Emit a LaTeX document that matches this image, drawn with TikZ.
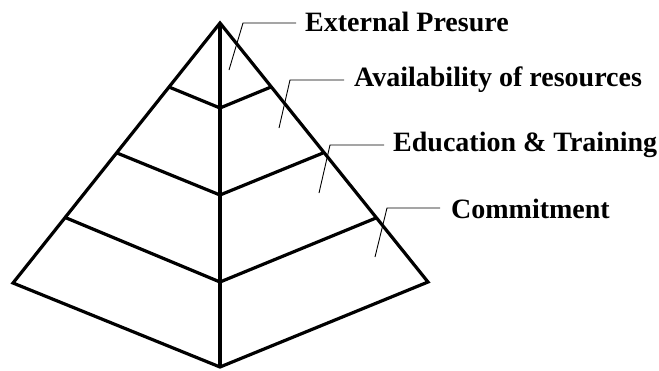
\documentclass[tikz,border=0pt]{standalone}
\usepackage{fontspec}
\setmainfont{Liberation Serif}
\begin{document}
\begin{tikzpicture}[x=1pt,y=-1pt,
  edge/.style={line width=3.2pt,line join=miter},
  leader/.style={line width=0.9pt},
  lbl/.style={anchor=west,inner sep=0pt,font=\fontsize{28}{30}\selectfont\bfseries}]
\useasboundingbox (0,0) rectangle (659,370);
% vertices
\coordinate (apex) at (220,23);
\coordinate (L) at (13,283);
\coordinate (R) at (428,282);
\coordinate (B) at (220,367);
\coordinate (l1) at (169,87);  \coordinate (c1) at (220,108); \coordinate (r1) at (271,87);
\coordinate (l2) at (117,153); \coordinate (c2) at (220,195); \coordinate (r2) at (323,153);
\coordinate (l3) at (64,217);  \coordinate (c3) at (220,282); \coordinate (r3) at (376,218);
% pyramid outline
\draw[edge] (apex) -- (L) -- (B) -- (R) -- cycle;
\draw[edge] (apex) -- (B);
\draw[edge] (l1) -- (c1) -- (r1);
\draw[edge] (l2) -- (c2) -- (r2);
\draw[edge] (l3) -- (c3) -- (r3);
% labels
\node[lbl] (t1) at (305,22) {External Presure};
\node[lbl] (t2) at (354,80) {Availability of resources};
\node[lbl] (t3) at (393,145) {Education \& Training};
\node[lbl] (t4) at (451,209) {Commitment};
% leaders
\coordinate (p1) at (229,70);  \coordinate (k1) at (243,23);
\coordinate (p2) at (279,128); \coordinate (k2) at (290,80);
\coordinate (p3) at (319,193); \coordinate (k3) at (330,145);
\coordinate (p4) at (375,257); \coordinate (k4) at (387,208);
\draw[leader] (p1) -- (k1) -- ++(53,0);
\draw[leader] (p2) -- (k2) -- ++(54,0);
\draw[leader] (p3) -- (k3) -- ++(54,0);
\draw[leader] (p4) -- (k4) -- ++(53,0);
\end{tikzpicture}
\end{document}
